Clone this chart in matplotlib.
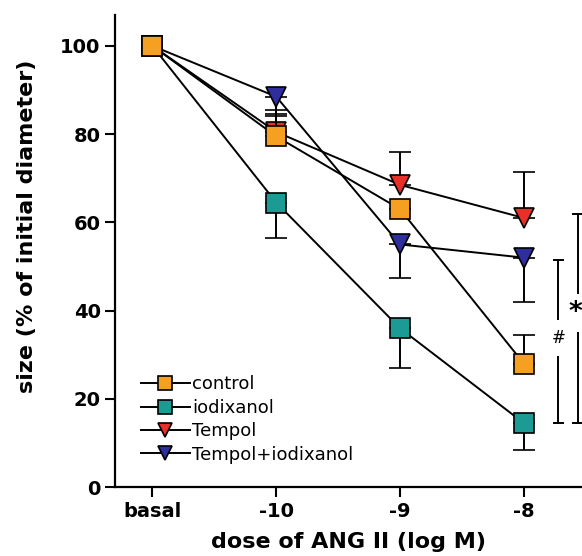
import matplotlib
matplotlib.use('Agg')
import matplotlib.pyplot as plt
import numpy as np

# Values
doses = ['basal', '-10', '-9', '-8']

control = [100, 79.5, 63.0, 28.0]
control_lo = [0, 0, 0, 0]
control_hi = [0, 4.5, 0, 6.5]

iodixanol = [100, 64.5, 36.0, 14.5]
iodixanol_lo = [0, 8.0, 9.0, 6.0]
iodixanol_hi = [0, 0, 0, 0]

tempol = [100, 80.5, 68.5, 61.0]
tempol_lo = [0, 0, 0, 0]
tempol_hi = [0, 5.0, 7.5, 10.5]

tempol_iodix = [100, 88.5, 55.0, 52.0]
tempol_iodix_lo = [0, 4.0, 7.5, 10.0]
tempol_iodix_hi = [0, 0, 0, 0]

# significance brackets: (x, y_bottom, y_top, gap_low, gap_high, label)
sig_hash = (3.28, 14.5, 51.5, 29.5, 38.0, '#')
sig_star = (3.435, 14.5, 62.0, 35.0, 44.0, '*')

plt.rcParams['font.family'] = 'DejaVu Sans'

fig = plt.figure(figsize=(5.82, 5.56), dpi=100)
ax = fig.add_axes([0.198, 0.124, 0.802, 0.849])

x = np.arange(len(doses))

# drawn bottom to top
series = [
    ('Tempol', tempol, tempol_lo, tempol_hi, '#E8302A', 'v', 15),
    ('iodixanol', iodixanol, iodixanol_lo, iodixanol_hi, '#1C9A94', 's', 14),
    ('Tempol+iodixanol', tempol_iodix, tempol_iodix_lo, tempol_iodix_hi, '#2E2E9E', 'v', 15),
    ('control', control, control_lo, control_hi, '#F5A020', 's', 14),
]

handles = {}
for i, (name, y, lo, hi, col, mk, ms) in enumerate(series):
    h = ax.errorbar(x, y, yerr=[lo, hi], color='black', lw=1.4, capsize=8,
                    capthick=1.4, elinewidth=1.4, marker=mk, ms=ms,
                    mfc=col, mec='black', mew=1.2, zorder=3 + i)
    handles[name] = h

order = ['control', 'iodixanol', 'Tempol', 'Tempol+iodixanol']
leg = ax.legend([handles[n][0] for n in order], order, loc='lower left',
                bbox_to_anchor=(0.02, 0.015), frameon=False, fontsize=13,
                handlelength=2.7, handletextpad=0.15, labelspacing=0.3,
                markerscale=0.7)

for bx, y0, y1, g0, g1, lab in [sig_hash, sig_star]:
    ax.plot([bx, bx], [y0, g0], color='black', lw=1.4, clip_on=False)
    ax.plot([bx, bx], [g1, y1], color='black', lw=1.4, clip_on=False)
    for yy in (y0, y1):
        ax.plot([bx - 0.04, bx + 0.04], [yy, yy], color='black', lw=1.4,
                clip_on=False)
    if lab == '#':
        ax.text(bx, (g0 + g1) / 2, lab, ha='center', va='center',
                fontsize=12, clip_on=False)
    else:
        ax.text(bx - 0.02, (g0 + g1) / 2, lab, ha='center', va='center',
                fontsize=19, fontweight='bold', clip_on=False)

ax.set_xlim(-0.3, 3.47)
ax.set_ylim(0, 107)
ax.set_xticks(x)
ax.set_xticklabels(doses, fontsize=14, fontweight='bold')
ax.set_yticks([0, 20, 40, 60, 80, 100])
ax.set_yticklabels(['0', '20', '40', '60', '80', '100'], fontsize=14,
                   fontweight='bold')
ax.tick_params(width=1.5, length=7, direction='out')

ax.spines['top'].set_visible(False)
ax.spines['right'].set_visible(False)
ax.spines['left'].set_linewidth(1.6)
ax.spines['bottom'].set_linewidth(1.6)

ax.set_xlabel('dose of ANG II (log M)', fontsize=16, fontweight='bold', labelpad=8)
ax.set_ylabel('size (% of initial diameter)', fontsize=16, fontweight='bold')
ax.yaxis.set_label_coords(-0.167, 0.553)

fig.savefig('out.png', dpi=100)
